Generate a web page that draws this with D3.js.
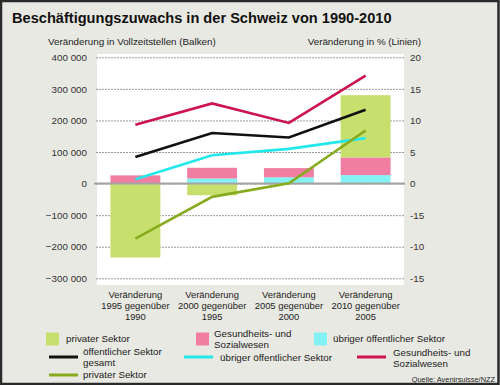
<!DOCTYPE html>
<html>
<head>
<meta charset="utf-8">
<script src="https://cdn.jsdelivr.net/npm/d3@7"></script>
<style>
  body { margin: 0; }
  svg { display: block; font-family: "Liberation Sans", Arial, sans-serif; }
</style>
</head>
<body>
<div id="chart"></div>
<script>
// categories (each one is a three-line label)
var categories = ["1995", "2000", "2005", "2010"];
var categoryLabels = [
  ["Veränderung", "1995 gegenüber", "1990"],
  ["Veränderung", "2000 gegenüber", "1995"],
  ["Veränderung", "2005 gegenüber", "2000"],
  ["Veränderung", "2010 gegenüber", "2005"]
];

// bars: change in full-time positions
var barPrivat = [-234000, -37000, 0, 197000];
var barGesundheit = [26000, 34000, 29000, 56000];
var barUebrigOeff = [0, 16000, 20000, 27000];

// lines: change in %
var lineGesundheit = [9.3, 12.7, 9.6, 17.1];
var lineOeffGesamt = [4.2, 8.0, 7.3, 11.7];
var lineUebrigOeff = [0.7, 4.5, 5.5, 7.2];
var linePrivat = [-8.7, -2.1, 0.05, 8.4];

var leftTicks = [-300000, -200000, -100000, 0, 100000, 200000, 300000, 400000];
var rightTicks = [-15, -10, -5, 0, 5, 10, 15, 20];
var rightTickLabels = ["-15", "-10", "-15", "0", "5", "10", "15", "20"];

var W = 500, H = 385;
var col = {
  green: "#c7df6c", pink: "#f17ea2", cyan: "#84f2f5",
  lred: "#cc1450", lblack: "#111111", lcyan: "#22e8ec", lgreen: "#86ac1e"
};
var FS = 9.8;

var svg = d3.select("#chart").append("svg").attr("width", W).attr("height", H);

// frame
svg.append("rect").attr("x", 1).attr("y", 1).attr("width", W - 2.5).attr("height", H - 2)
  .attr("fill", "#e9e9e3").attr("stroke", "#2a2a2a").attr("stroke-width", 2.5);

svg.append("text").attr("x", 12).attr("y", 23)
  .attr("font-size", 14.6).attr("font-weight", "bold").attr("fill", "#111")
  .text("Beschäftigungszuwachs in der Schweiz von 1990-2010");

svg.append("text").attr("x", 48).attr("y", 45).attr("font-size", FS).attr("fill", "#222")
  .text("Veränderung in Vollzeitstellen (Balken)");
svg.append("text").attr("x", 421).attr("y", 45).attr("font-size", FS).attr("fill", "#222")
  .attr("text-anchor", "end").text("Veränderung in % (Linien)");

var x0 = 97, x1 = 404;
var x = d3.scaleBand().domain(categories).range([x0, x1]).paddingInner(0.35).paddingOuter(0.175);
var yL = d3.scaleLinear().domain([-300000, 400000]).range([278.3, 57.3]);
var yR = d3.scaleLinear().domain([-15, 20]).range([278.3, 57.3]);

svg.append("rect").attr("x", x0).attr("y", 54).attr("width", x1 - x0).attr("height", 231).attr("fill", "#fff");

var fmt = d3.formatLocale({ decimal: ".", thousands: " ", grouping: [3], currency: ["", ""] }).format(",d");

// left axis with gridlines
var gL = svg.append("g").attr("transform", "translate(96,0)")
  .call(d3.axisLeft(yL).tickValues(leftTicks).tickFormat(fmt).tickSize(-309).tickPadding(9));
gL.select(".domain").remove();
gL.selectAll(".tick line").attr("stroke", "#999").attr("stroke-dasharray", "2,1");
gL.selectAll(".tick text").attr("font-size", FS).attr("fill", "#333").attr("font-family", "Liberation Sans, Arial, sans-serif");

// right axis labels
var gR = svg.append("g").attr("transform", "translate(405,0)")
  .call(d3.axisRight(yR).tickValues(rightTicks).tickSize(0).tickPadding(5)
    .tickFormat(function (d, i) { return rightTickLabels[i]; }));
gR.select(".domain").remove();
gR.selectAll(".tick text").attr("font-size", FS).attr("fill", "#333").attr("font-family", "Liberation Sans, Arial, sans-serif");

// stacked bars
var stackData = categories.map(function (c, i) {
  return { cat: c, uebrig: barUebrigOeff[i], gesundheit: barGesundheit[i], privat: barPrivat[i] };
});
var series = d3.stack().keys(["uebrig", "gesundheit", "privat"]).offset(d3.stackOffsetDiverging)(stackData);
var barColor = { uebrig: col.cyan, gesundheit: col.pink, privat: col.green };

svg.append("g").selectAll("g").data(series).join("g")
  .attr("fill", function (s) { return barColor[s.key]; })
  .selectAll("rect").data(function (s) { return s; }).join("rect")
  .attr("x", function (d) { return x(d.data.cat); })
  .attr("width", x.bandwidth())
  .attr("y", function (d) { return yL(Math.max(d[0], d[1])); })
  .attr("height", function (d) { return Math.abs(yL(d[0]) - yL(d[1])); });

// zero line
svg.append("line").attr("x1", 94).attr("x2", 405).attr("y1", yL(0)).attr("y2", yL(0))
  .attr("stroke", "#a3a3a3").attr("stroke-width", 2);

// lines
var line = d3.line()
  .x(function (d, i) { return x(categories[i]) + x.bandwidth() / 2; })
  .y(function (d) { return yR(d); });
[[lineGesundheit, col.lred], [lineOeffGesamt, col.lblack], [lineUebrigOeff, col.lcyan], [linePrivat, col.lgreen]]
  .forEach(function (l) {
    svg.append("path").datum(l[0]).attr("d", line).attr("fill", "none")
      .attr("stroke", l[1]).attr("stroke-width", 2.6);
  });

// category labels
var cl = svg.append("g").selectAll("text").data(categoryLabels).join("text")
  .attr("x", function (d, i) { return x(categories[i]) + x.bandwidth() / 2; })
  .attr("y", 297.5).attr("text-anchor", "middle").attr("font-size", 9.4).attr("fill", "#222");
cl.selectAll("tspan").data(function (d) { return d; }).join("tspan")
  .attr("x", function () { return d3.select(this.parentNode).attr("x"); })
  .attr("dy", function (d, i) { return i === 0 ? 0 : 11.3; })
  .text(function (d) { return d; });

// legend
var leg = svg.append("g").attr("font-size", FS).attr("fill", "#222");
function legText(xp, yc, lines) {
  var t = leg.append("text").attr("x", xp).attr("y", yc - (lines.length - 1) * 5.5 + 3.5);
  lines.forEach(function (s, i) {
    t.append("tspan").attr("x", xp).attr("dy", i === 0 ? 0 : 11).text(s);
  });
}
function legBox(xp, c) { leg.append("rect").attr("x", xp).attr("y", 332.5).attr("width", 13).attr("height", 13).attr("fill", c); }
function legLine(xp, yc, c) { leg.append("line").attr("x1", xp).attr("x2", xp + 29).attr("y1", yc).attr("y2", yc).attr("stroke", c).attr("stroke-width", 3); }

legBox(46, col.green); legText(66, 338.5, ["privater Sektor"]);
legBox(196, col.pink); legText(214, 339, ["Gesundheits- und", "Sozialwesen"]);
legBox(314, col.cyan); legText(333, 338.5, ["übriger öffentlicher Sektor"]);
legLine(49, 357, col.lblack); legText(83, 357, ["öffentlicher Sektor", "gesamt"]);
legLine(184, 357, col.lcyan); legText(220, 357, ["übriger öffentlicher Sektor"]);
legLine(357, 357, col.lred); legText(393, 358, ["Gesundheits- und", "Sozialwesen"]);
legLine(49, 375, col.lgreen); legText(83, 374.5, ["privater Sektor"]);

svg.append("text").attr("x", 495).attr("y", 382).attr("text-anchor", "end")
  .attr("font-size", 7.4).attr("fill", "#222").text("Quelle: Avenirsuisse/NZZ");
</script>
</body>
</html>
